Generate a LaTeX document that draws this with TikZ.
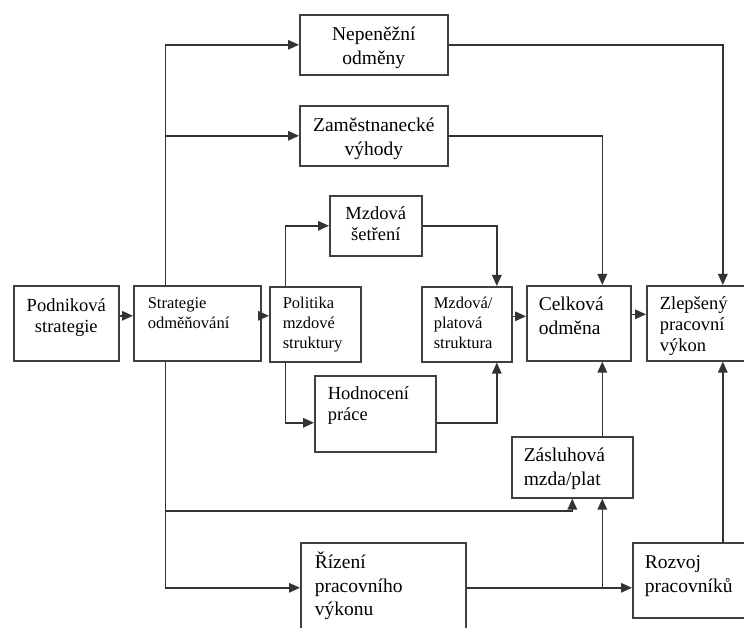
\documentclass[tikz,border=0pt]{standalone}
\usepackage{fontspec}
\setmainfont{Liberation Serif}
\usetikzlibrary{arrows.meta}

\begin{document}
\begin{tikzpicture}[x=1pt, y=-1pt, >={Triangle[length=11pt,width=9.5pt]},
  box/.style={draw=black!75, line width=1.6pt, anchor=north west, inner ysep=0pt,
              inner xsep=13pt, align=left},
  bigtext/.style={font=\fontsize{19.5}{23.5}\selectfont},
  midtext/.style={font=\fontsize{18.5}{21}\selectfont},
  smalltext/.style={font=\fontsize{16.5}{20}\selectfont},
  conn/.style={->, draw=black!80, line width=1.5pt}]
  \useasboundingbox[fill=white] (0,0) rectangle (744,628);

  \node[box, midtext, align=center, inner xsep=4pt, text width=97pt, text height=26pt, text depth=49pt]
    (podnik) at (13,285) {Podniková\\strategie};
  \node[box, smalltext, inner xsep=14pt, text width=99pt, text height=23pt, text depth=52pt]
    (strat) at (133,285) {Strategie\\odměňování};
  \node[box, smalltext, text width=65pt, text height=22pt, text depth=53pt]
    (polit) at (269,286) {Politika\\mzdové\\struktury};
  \node[box, bigtext, align=center, inner xsep=4pt, text width=140pt, text height=26pt, text depth=34pt]
    (neprem) at (299,14) {Nepeněžní\\odměny};
  \node[box, bigtext, align=center, inner xsep=4pt, text width=140pt, text height=26pt, text depth=34pt]
    (zamest) at (299,105) {Zaměstnanecké\\výhody};
  \node[box, midtext, align=center, inner xsep=4pt, text width=84pt, text height=24pt, text depth=36pt]
    (setreni) at (329,195) {Mzdová\\šetření};
  \node[box, smalltext, inner xsep=12pt, text width=66pt, text height=22pt, text depth=53pt]
    (mzstrukt) at (421,286) {Mzdová/\\platová\\struktura};
  \node[box, bigtext, inner xsep=12pt, text width=80pt, text height=25pt, text depth=50pt]
    (celkova) at (526,285) {Celková\\odměna};
  \node[box, midtext, text width=126pt, text height=24pt, text depth=51pt]
    (zlepseny) at (646,285) {Zlepšený\\pracovní\\výkon};
  \node[box, midtext, text width=95pt, text height=24pt, text depth=52pt]
    (hodnoceni) at (314,375) {Hodnocení\\práce};
  \node[box, bigtext, inner xsep=12pt, text width=97pt, text height=25pt, text depth=36pt]
    (zasl) at (511,436) {Zásluhová\\mzda/plat};
  \node[box, bigtext, inner xsep=14pt, text width=137pt, text height=26pt, text depth=64pt]
    (rizeni) at (300,542) {Řízení\\pracovního\\výkonu};
  \node[box, bigtext, inner xsep=12pt, text width=156pt, text height=26pt, text depth=49pt]
    (rozvoj) at (632,542) {Rozvoj\\pracovníků};
  \coordinate (zbranch) at (164.5,511);

  \draw[conn] ([yshift=7.5pt]podnik.east) -- ([yshift=7.5pt]podnik.east -| strat.west);
  \draw[conn] ([yshift=7.5pt]strat.east) -- ([yshift=7.5pt]strat.east -| polit.west);
  \draw[conn] ([yshift=8pt]mzstrukt.east) -- ([yshift=8pt]mzstrukt.east -| celkova.west);
  \draw[conn] ([yshift=9pt]celkova.east) -- ([yshift=9pt]celkova.east -| zlepseny.west);
  \draw[conn] ([xshift=-32pt]strat.north) |- (neprem.west);
  \draw[conn] ([xshift=-32pt]strat.north |- zamest.west) -- (zamest.west);
  \draw[conn] (neprem.east) -| (zlepseny.north);
  \draw[conn] (zamest.east) -| ([xshift=30pt]zasl.north |- celkova.north);
  \draw[conn] ([xshift=-30pt]polit.north) |- (setreni.west);
  \draw[conn] (setreni.east) -| ([xshift=30pt]mzstrukt.north);
  \draw[conn] ([xshift=-30pt]polit.south) |- ([yshift=-9pt]hodnoceni.west);
  \draw[conn] ([yshift=-9pt]hodnoceni.east) -| ([xshift=30pt]mzstrukt.south);
  \draw[conn] ([xshift=-32pt]strat.south) |- (rizeni.west);
  \draw[conn] (zbranch) -| (zasl.south);
  \draw[conn] (rizeni.east) -- (rizeni.east -| rozvoj.west);
  \draw[conn] ([xshift=30pt]zasl.south |- rizeni.east) -- ([xshift=30pt]zasl.south);
  \draw[conn] ([xshift=30pt]zasl.north) -- ([xshift=30pt]zasl.north |- celkova.south);
  \draw[conn] (rozvoj.north) -- (zlepseny.south);
\end{tikzpicture}
\end{document}
